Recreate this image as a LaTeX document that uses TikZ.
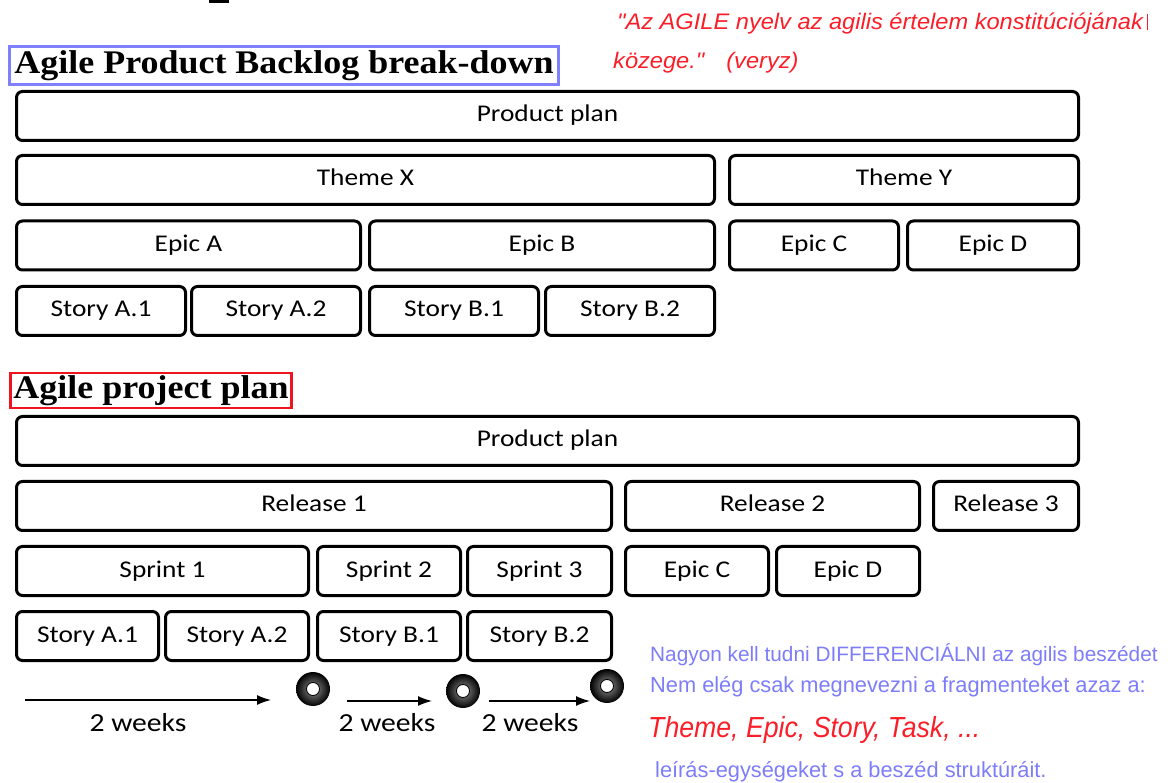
\documentclass[tikz,border=0pt]{standalone}
\usepackage{fontspec}
\usepackage{tikz}
\usetikzlibrary{positioning,arrows.meta}

\newfontfamily\boxfont[FakeStretch=1.14]{Carlito}
\newfontfamily\headfont[FakeStretch=1.09]{Liberation Serif}
\newfontfamily\notefont{Liberation Sans}
\newfontfamily\quotefont[FakeStretch=1.05]{Liberation Sans}
\newfontfamily\tagfont[FakeStretch=0.92]{Liberation Sans}

\definecolor{framblue}{RGB}{128,128,255}
\definecolor{framred}{RGB}{240,20,30}
\definecolor{notered}{RGB}{250,30,40}
\definecolor{noteblue}{RGB}{125,125,250}

\begin{document}
\begin{tikzpicture}[x=1pt,y=-1pt,>={Latex[length=14pt,width=10pt]},
    blk/.style={draw,line width=3pt,rounded corners=6pt,fill=white,inner sep=0pt,
      minimum height=49pt,text height=17pt,text depth=5pt,
      font=\boxfont\fontsize{24}{28}\selectfont},
    hdr/.style={line width=3pt,inner sep=0pt,
      font=\headfont\bfseries\fontsize{33}{38}\selectfont},
    wk/.style={anchor=base,inner sep=0pt,font=\boxfont\fontsize{26}{30}\selectfont},
    note/.style={anchor=base west,inner sep=0pt,text=noteblue,
      font=\notefont\fontsize{21.8}{26}\selectfont}]

  \useasboundingbox (0,0) rectangle (1171,783);
  \fill (209,0) rectangle (229,3.5);

  % backlog break-down
  \node[hdr,draw=framblue,minimum width=549pt,minimum height=38pt] (BT) at (284,65.5) {Agile Product Backlog break-down};

  \node[blk,minimum width=1062pt] (PP) at (547.5,116) {Product plan};
  \node[blk,minimum width=698pt,anchor=west] (TX) at (15,180) {Theme X};
  \node[blk,minimum width=349pt] (TY) [right=12pt of TX] {Theme Y};
  \node[blk,minimum width=344pt,anchor=west] (EA) at (15,245.5) {Epic A};
  \node[blk,minimum width=345pt] (EB) [right=6pt of EA] {Epic B};
  \node[blk,minimum width=169pt] (EC) [right=12pt of EB] {Epic C};
  \node[blk,minimum width=171pt] (ED) [right=6pt of EC] {Epic D};
  \node[blk,minimum width=169pt,anchor=west] (SA1) at (15,311) {Story A.1};
  \node[blk,minimum width=169pt] (SA2) [right=3pt of SA1] {Story A.2};
  \node[blk,minimum width=169pt] (SB1) [right=6pt of SA2] {Story B.1};
  \node[blk,minimum width=169pt] (SB2) [right=4pt of SB1] {Story B.2};

  % project plan
  \node[hdr,draw=framred,line width=2.5pt,minimum width=281pt,minimum height=35pt] (PT) at (151,390.5) {Agile project plan};

  \node[blk,minimum width=1062pt] (PP2) at (547.5,441) {Product plan};
  \node[blk,minimum width=595pt,anchor=west] (R1) at (15,506) {Release 1};
  \node[blk,minimum width=294pt] (R2) [right=11pt of R1] {Release 2};
  \node[blk,minimum width=145pt] (R3) [right=11pt of R2] {Release 3};
  \node[blk,minimum width=292pt,anchor=west] (SP1) at (15,571) {Sprint 1};
  \node[blk,minimum width=143pt] (SP2) [right=6pt of SP1] {Sprint 2};
  \node[blk,minimum width=144pt] (SP3) [right=4pt of SP2] {Sprint 3};
  \node[blk,minimum width=143pt] (EC2) [right=11pt of SP3] {Epic C};
  \node[blk,minimum width=143pt] (ED2) [right=5pt of EC2] {Epic D};
  \node[blk,minimum width=142pt,anchor=west] (ST1) at (15,636) {Story A.1};
  \node[blk,minimum width=143pt] (ST2) [right=4pt of ST1] {Story A.2};
  \node[blk,minimum width=143pt] (ST3) [right=6pt of ST2] {Story B.1};
  \node[blk,minimum width=144pt] (ST4) [right=4pt of ST3] {Story B.2};

  % sprint time line
  \coordinate (W1a) at (25,700);  \coordinate (W1b) at (271,700);
  \coordinate (W2a) at (347,701); \coordinate (W2b) at (432,701);
  \coordinate (W3a) at (489,701); \coordinate (W3b) at (590,701);
  \draw[->,line width=1.5pt] (W1a) -- (W1b);
  \draw[->,line width=1.5pt] (W2a) -- (W2b);
  \draw[->,line width=1.5pt] (W3a) -- (W3b);
  \node[wk] (L1) at (138,731) {2 weeks};
  \node[wk] (L2) at (387,731) {2 weeks};
  \node[wk] (L3) at (530,731) {2 weeks};

  \foreach \cx/\cy in {313/689,463/691,607/686}{
    \shade[even odd rule,inner color=gray!85,outer color=black]
      (\cx,\cy) circle [radius=17] (\cx,\cy) circle [radius=6.5];
    \draw[line width=0.8pt] (\cx,\cy) circle [radius=6.5];
  }

  % remarks
  \node[anchor=base west,inner sep=0pt,text=notered,font=\quotefont\itshape\fontsize{22.5}{26}\selectfont] (Q1) at (617,30)
    {"Az AGILE nyelv az agilis értelem konstitúciójának\,\rule[-0.5pt]{1.3pt}{16pt}};
  \node[anchor=base west,inner sep=0pt,text=notered,font=\quotefont\itshape\fontsize{22.5}{26}\selectfont] (Q2) at (613,69)
    {közege."\hspace{22pt}(veryz)};

  \node[note,font=\notefont\fontsize{20.8}{26}\selectfont] (N1) at (650,661) {Nagyon kell tudni DIFFERENCIÁLNI az agilis beszédet};
  \node[note] (N2) at (650,692) {Nem elég csak megnevezni a fragmenteket azaz a:};
  \node[note,text=notered,font=\tagfont\itshape\fontsize{29}{34}\selectfont] (N3) at (648,737) {Theme, Epic, Story, Task, ...};
  \node[note] (N4) at (655,777) {leírás-egységeket s a beszéd struktúráit.};
\end{tikzpicture}
\end{document}
